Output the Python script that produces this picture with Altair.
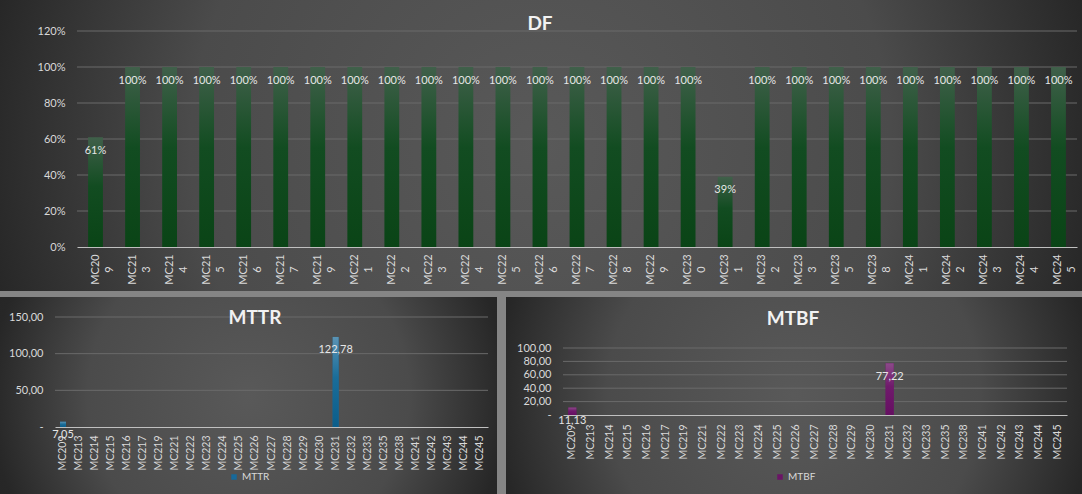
import altair as alt
import pandas as pd

# ---------------- data ----------------
machines = ["MC209", "MC213", "MC214", "MC215", "MC216", "MC217", "MC219", "MC221",
            "MC222", "MC223", "MC224", "MC225", "MC226", "MC227", "MC228", "MC229",
            "MC230", "MC231", "MC232", "MC233", "MC235", "MC238", "MC241", "MC242",
            "MC243", "MC244", "MC245"]
df_values = [0.61, 1.00, 1.00, 1.00, 1.00, 1.00, 1.00, 1.00, 1.00, 1.00, 1.00, 1.00,
             1.00, 1.00, 1.00, 1.00, 1.00, 0.39, 1.00, 1.00, 1.00, 1.00, 1.00, 1.00,
             1.00, 1.00, 1.00]
mttr_values = [7.05, None, None, None, None, None, None, None, None, None, None, None,
               None, None, None, None, None, 122.78, None, None, None, None, None, None,
               None, None, None]
mtbf_values = [11.13, None, None, None, None, None, None, None, None, None, None, None,
               None, None, None, None, None, 77.22, None, None, None, None, None, None,
               None, None, None]
df_ticks = [0, 0.2, 0.4, 0.6, 0.8, 1.0, 1.2]
mttr_ticks = [0, 50, 100, 150]
mtbf_ticks = [0, 20, 40, 60, 80, 100]

table = pd.DataFrame({"machine": machines, "df": df_values,
                      "mttr": mttr_values, "mtbf": mtbf_values})
table["s_mttr"] = "MTTR"
table["s_mtbf"] = "MTBF"

# ---------------- styles ----------------
FONT = "Lato"
LABEL = "#d9d9d9"
GRID = "#6a6a6a"
DOMAIN = "#c0c0c0"


def radial():
    return {"gradient": "radial", "x1": 0.5, "y1": 0.5, "r1": 0,
            "x2": 0.5, "y2": 0.5, "r2": 0.72,
            "stops": [{"offset": 0, "color": "#595959"},
                      {"offset": 0.45, "color": "#4b4b4b"},
                      {"offset": 0.72, "color": "#272727"},
                      {"offset": 1, "color": "#1f1f1f"}]}


def vgrad(c0, c1, c2):
    return {"gradient": "linear", "x1": 0, "y1": 0, "x2": 0, "y2": 1,
            "stops": [{"offset": 0, "color": c0},
                      {"offset": 0.45, "color": c1},
                      {"offset": 1, "color": c2}]}


def background(w, h):
    return alt.Chart(alt.Data(values=[{"k": 1}])).mark_rect(fill=radial()).encode(
        x=alt.value(0), x2=alt.value(w), y=alt.value(0), y2=alt.value(h))


def title(text, x, y):
    return alt.Chart(alt.Data(values=[{"t": text}])).mark_text(
        font=FONT, fontSize=19, fontWeight="bold", color="#f2f2f2",
        align="center", baseline="middle").encode(
        text="t:N", x=alt.value(x), y=alt.value(y))


def panel(w, h, px0, px1, py0, py1, yfield, ymax, ticks, yfmt_expr, xaxis_kw,
          pad_inner, bar_grad, label_expr, title_text, title_pos,
          legend=None):
    # x: band scale placed inside the panel
    x_enc = alt.X("machine:N", sort=machines, title=None,
                  scale=alt.Scale(domain=machines, range=[px0, px1],
                                  paddingInner=pad_inner, paddingOuter=pad_inner / 2),
                  axis=alt.Axis(offset=py1 - h, domain=True, domainColor=DOMAIN,
                                ticks=False, tickSize=0, grid=False, labelOverlap=False,
                                zindex=1, **xaxis_kw))

    def y_enc(field):
        return alt.Y(field + ":Q", title=None,
                     scale=alt.Scale(domain=[0, ymax], range=[py1, py0]),
                     axis=alt.Axis(values=ticks, offset=-px0, labelPadding=12,
                                   labelFontSize=11, labelExpr=yfmt_expr, domain=False,
                                   ticks=False, tickSize=0, grid=False, zindex=1))

    grid = alt.Chart(pd.DataFrame({"v": ticks[1:]})).mark_rule(
        color=GRID, strokeWidth=1).encode(
        y=y_enc("v"), x=alt.value(px0), x2=alt.value(px1))

    base = alt.Chart(table)
    layers = [background(w, h), grid]
    if legend is not None:
        series, name, solid, lx, ly = legend
        layers.append(base.mark_bar().encode(
            x=x_enc, y=y_enc(yfield),
            color=alt.Color(series + ":N",
                            scale=alt.Scale(domain=[name], range=[solid]),
                            legend=alt.Legend(title=None, orient="none", legendX=lx,
                                              legendY=ly, symbolType="square",
                                              symbolSize=30, labelFontSize=10,
                                              labelColor=LABEL, labelFont=FONT,
                                              labelOffset=3, padding=0))))
    layers.append(base.mark_bar(fill=bar_grad).encode(x=x_enc, y=y_enc(yfield)))
    layers.append(base.transform_filter("isValid(datum." + yfield + ")")
                  .transform_calculate(lab=label_expr)
                  .mark_text(dy=13.5, font=FONT, fontSize=11, color="#e6e6e6",
                             baseline="middle")
                  .encode(x=x_enc, y=y_enc(yfield), text="lab:N"))
    layers.append(title(title_text, *title_pos))
    return alt.layer(*layers).properties(width=w, height=h)


comma_y = ("datum.value == 0 ? '-\u00a0\u00a0\u00a0' : "
           "replace(format(datum.value, '.2f'), '.', ',')")

top = panel(1082, 291, 77, 1077, 31, 247, "df", 1.2, df_ticks,
            "format(datum.value, '.0%')",
            dict(labelAngle=270, labelAlign="center", labelBaseline="middle",
                 labelPadding=22, labelLineHeight=14, labelFontSize=11,
                 labelExpr="[substring(datum.label,0,4), substring(datum.label,4)]"),
            0.6, vgrad("#40604a", "#124c21", "#0a4416"),
            "format(datum.df, '.0%')", "DF", (540, 24))

small_x = dict(labelAngle=270, labelAlign="right", labelBaseline="middle",
               labelPadding=8, labelFontSize=10.5)

mttr = panel(497, 197, 55, 488, 20, 130, "mttr", 150, mttr_ticks, comma_y, small_x,
             0.63, vgrad("#5a93b4", "#1a6d99", "#0b5e8b"),
             "replace(format(datum.mttr, '.2f'), '.', ',')", "MTTR", (255, 21),
             legend=("s_mttr", "MTTR", "#17699a", 229, 175))

mtbf = panel(576, 197, 57, 561, 51, 118, "mtbf", 100, mtbf_ticks, comma_y,
             dict(small_x, labelPadding=9),
             0.57, vgrad("#8c4a89", "#701a6c", "#660f62"),
             "replace(format(datum.mtbf, '.2f'), '.', ',')", "MTBF", (287, 22),
             legend=("s_mtbf", "MTBF", "#6b1466", 269, 175))

bottom = alt.hconcat(mttr, mtbf, spacing=9).resolve_scale(
    color="independent").resolve_legend(color="independent")

chart = alt.vconcat(top, bottom, spacing=6).properties(
    padding=0, background="#858585"
).configure_view(stroke=None).configure_axis(
    labelFont=FONT, labelColor=LABEL
)

chart.save("out.html", embed_options={"renderer": "svg", "actions": False})
